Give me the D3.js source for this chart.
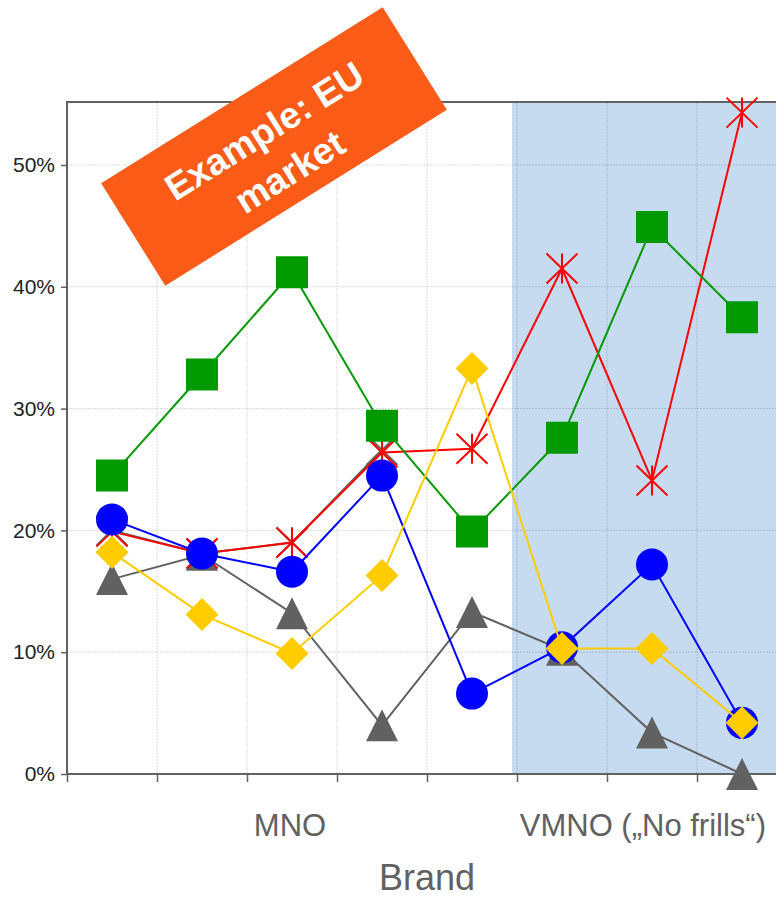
<!DOCTYPE html>
<html>
<head>
<meta charset="utf-8">
<script src="https://cdn.jsdelivr.net/npm/d3@7"></script>
<style>
  html, body { margin: 0; padding: 0; background: #fff; }
  svg { display: block; font-family: "Liberation Sans", Arial, sans-serif; }
</style>
</head>
<body>
<svg id="chart" width="776" height="899"></svg>
<script>
// ---------------- data ----------------
const categories = ["Brand 1", "Brand 2", "Brand 3", "Brand 4", "Brand 5", "Brand 6", "Brand 7", "Brand 8"];
const groupLabels = ["MNO", "VMNO (\u201eNo frills\u201c)"];
const groupStart = [0, 5];
const groupEnd = [4, 7];
const yTickValues = [0, 10, 20, 30, 40, 50];

const grayStarValues = [20.0, 18.1, 19.0, 26.6, null, null, null, null];
const triangleValues = [16.0, 18.0, 13.2, 4.0, 13.3, 10.2, 3.4, 0.0];
const redStarValues  = [19.9, 18.1, 19.0, 26.4, 26.7, 41.5, 24.1, 54.3];
const greenValues    = [24.5, 32.8, 41.2, 28.6, 19.9, 27.6, 44.9, 37.5];
const blueValues     = [20.9, 18.1, 16.6, 24.5, 6.6, 10.4, 17.2, 4.2];
const yellowValues   = [18.2, 13.1, 9.9, 16.3, 33.3, 10.3, 10.3, 4.2];

const xTitle = "Brand";
const bannerLines = ["Example: EU", "market"];

// ---------------- layout ----------------
const svg = d3.select("#chart");
const W = 776, H = 899;
const m = { left: 67, top: 102, right: -11, bottom: 125 };
const plotRight = W - m.right;           // plot extends slightly past the window
const plotBottom = H - m.bottom;

const x = d3.scaleBand().domain(categories).range([m.left, plotRight]).padding(0);
const cx = i => x(categories[i]) + x.bandwidth() / 2;
const y = d3.scaleLinear().domain([0, 55.17]).range([plotBottom, m.top]);

// shaded VMNO area
svg.append("rect")
  .attr("x", x(categories[groupStart[1]]) - 5)
  .attr("y", m.top)
  .attr("width", plotRight - x(categories[groupStart[1]]) + 5)
  .attr("height", plotBottom - m.top)
  .attr("fill", "#c6daf0");

// grid
const gridColor = "rgba(0,0,0,0.14)";
const grid = svg.append("g");
grid.selectAll("line.h").data(yTickValues.filter(d => d > 0)).join("line")
  .attr("x1", m.left).attr("x2", plotRight)
  .attr("y1", d => y(d)).attr("y2", d => y(d))
  .attr("stroke", gridColor).attr("stroke-width", 1).attr("stroke-dasharray", "2,1");
grid.selectAll("line.v").data(categories.slice(1)).join("line")
  .attr("x1", d => x(d)).attr("x2", d => x(d))
  .attr("y1", m.top).attr("y2", plotBottom)
  .attr("stroke", gridColor).attr("stroke-width", 1).attr("stroke-dasharray", "2,1");

// axes
const axisColor = "#616161";
const yAxis = svg.append("g").attr("transform", `translate(${m.left},0)`)
  .call(d3.axisLeft(y).tickValues(yTickValues).tickFormat(d => d + "%").tickSize(6).tickPadding(6));
yAxis.select(".domain").remove();
yAxis.selectAll(".tick line").attr("stroke", axisColor).attr("stroke-width", 1.5);
yAxis.selectAll(".tick text").attr("font-size", 21).attr("fill", "#222")
  .attr("font-family", "Liberation Sans, Arial, sans-serif");

const xb = d3.scaleLinear().domain([0, categories.length]).range([m.left, plotRight]);
const xAxis = svg.append("g").attr("transform", `translate(0,${plotBottom})`)
  .call(d3.axisBottom(xb).tickValues(d3.range(categories.length)).tickFormat("").tickSize(8));
xAxis.select(".domain").remove();
xAxis.selectAll(".tick line").attr("stroke", axisColor).attr("stroke-width", 1.5);

// frame lines
svg.append("line").attr("x1", m.left).attr("x2", m.left).attr("y1", m.top - 1).attr("y2", plotBottom + 1)
  .attr("stroke", axisColor).attr("stroke-width", 2);
svg.append("line").attr("x1", m.left).attr("x2", plotRight).attr("y1", m.top).attr("y2", m.top)
  .attr("stroke", axisColor).attr("stroke-width", 2);
svg.append("line").attr("x1", m.left).attr("x2", plotRight).attr("y1", plotBottom).attr("y2", plotBottom)
  .attr("stroke", axisColor).attr("stroke-width", 2);

// ---------------- series ----------------
const asteriskPath = "M0,-15L0,15M-15.5,-15L15.5,15M15.5,-15L-15.5,15";
const trianglePath = "M0,-16L16,16L-16,16Z";
const diamondPath = "M0,-16.5L16.5,0L0,16.5L-16.5,0Z";
const squarePath = "M-16,-16H16V16H-16Z";

const series = [
  { values: grayStarValues, color: "#616161", shape: "star" },
  { values: triangleValues, color: "#616161", shape: "triangle" },
  { values: redStarValues, color: "#ff0000", shape: "star" },
  { values: greenValues, color: "#009900", shape: "square" },
  { values: blueValues, color: "#0000ff", shape: "circle" },
  { values: yellowValues, color: "#ffcc00", shape: "diamond" }
];

const line = d3.line()
  .defined(d => d.v != null)
  .x(d => cx(d.i)).y(d => y(d.v));

series.forEach(s => {
  const pts = s.values.map((v, i) => ({ v, i }));
  const g = svg.append("g");
  g.append("path").datum(pts).attr("d", line)
    .attr("fill", "none").attr("stroke", s.color).attr("stroke-width", 2);
  const valid = pts.filter(d => d.v != null);
  const mk = g.selectAll(".mk").data(valid).join(s.shape === "circle" ? "circle" : "path")
    .attr("transform", d => s.shape === "circle" ? null : `translate(${cx(d.i)},${y(d.v)})`);
  if (s.shape === "circle") {
    mk.attr("cx", d => cx(d.i)).attr("cy", d => y(d.v)).attr("r", 16).attr("fill", s.color);
  } else if (s.shape === "star") {
    mk.attr("d", asteriskPath).attr("fill", "none").attr("stroke", s.color).attr("stroke-width", 2);
  } else {
    const p = s.shape === "triangle" ? trianglePath : s.shape === "diamond" ? diamondPath : squarePath;
    mk.attr("d", p).attr("fill", s.color);
  }
});

// ---------------- group labels & title ----------------
groupLabels.forEach((lab, k) => {
  const c = (x(categories[groupStart[k]]) + x(categories[groupEnd[k]]) + x.bandwidth()) / 2;
  const t = svg.append("text").text(lab)
    .attr("y", 836).attr("text-anchor", "middle")
    .attr("font-size", 31).attr("fill", "#616161");
  const w = t.node().getComputedTextLength();
  t.attr("x", Math.min(c - 2, W - 10 - w / 2));
});
svg.append("text").text(xTitle)
  .attr("x", (m.left + plotRight) / 2).attr("y", 890)
  .attr("text-anchor", "middle").attr("font-size", 36).attr("fill", "#616161");

// ---------------- banner ----------------
const banner = svg.append("g").attr("transform", "translate(274,146.5) rotate(-32)");
banner.append("rect").attr("x", -166).attr("y", -60.5).attr("width", 332).attr("height", 121)
  .attr("fill", "#fa5b16");
banner.selectAll("text").data(bannerLines).join("text")
  .text(d => d)
  .attr("x", 0).attr("y", (d, i) => -18 + i * 48)
  .attr("text-anchor", "middle").attr("dominant-baseline", "central")
  .attr("font-size", 37).attr("font-weight", "bold").attr("fill", "#ffffff");
</script>
</body>
</html>
